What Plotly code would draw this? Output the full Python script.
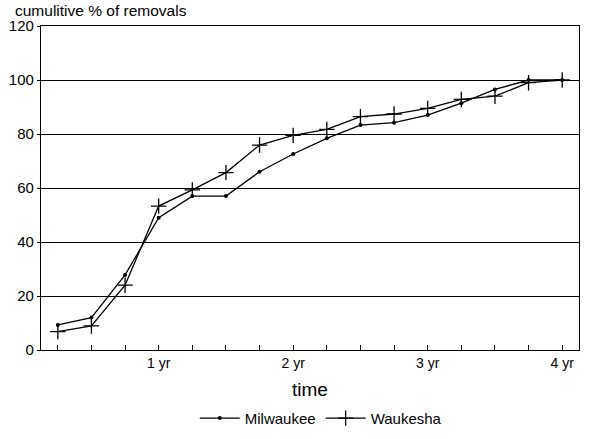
import plotly.graph_objects as go

quarters = list(range(1, 17))
milwaukee = [9.3, 12, 27.8, 49, 57, 57, 66, 72.6, 78.4, 83.3, 84.2, 87, 91.4, 96.5, 100, 100]
waukesha = [6.8, 8.9, 24, 53.3, 59.3, 65.7, 75.9, 79.5, 81.7, 86.4, 87.4, 89.5, 92.8, 94, 99, 100]
tick_vals = list(range(1, 17))
tick_text = ["", "", "", "1 yr", "", "", "", "2 yr", "", "", "", "3 yr", "", "", "", "4 yr"]
y_ticks = [0, 20, 40, 60, 80, 100, 120]

font = "Liberation Sans, Arial, sans-serif"

fig = go.Figure()
fig.add_trace(go.Scatter(
    x=quarters, y=milwaukee, name="Milwaukee", mode="lines+markers",
    line=dict(color="black", width=1.3),
    marker=dict(symbol="circle", size=4, color="black"),
))
fig.add_trace(go.Scatter(
    x=quarters, y=waukesha, name="Waukesha", mode="lines+markers",
    line=dict(color="black", width=1.3),
    marker=dict(symbol="cross-thin", size=11, line=dict(color="black", width=1.3)),
))

fig.update_layout(
    width=589, height=439,
    margin=dict(l=41, r=10, t=26, b=89, autoexpand=False),
    paper_bgcolor="white", plot_bgcolor="white",
    font=dict(family=font, size=13, color="black"),
    showlegend=True,
    legend=dict(orientation="h", x=0.52, xanchor="center", y=-0.16, yanchor="top",
                font=dict(size=15), itemwidth=40),
    xaxis=dict(
        range=[0.5, 16.5], tickmode="array", tickvals=tick_vals, ticktext=tick_text,
        ticks="inside", ticklen=5, tickcolor="black", tickwidth=1,
        showline=True, linecolor="black", linewidth=1.3, mirror=True,
        showgrid=False, zeroline=False,
        title=dict(text="time", font=dict(size=19), standoff=12),
        tickfont=dict(size=14),
    ),
    yaxis=dict(
        range=[0, 120], tickmode="array", tickvals=y_ticks,
        ticks="outside", ticklen=3, tickcolor="black",
        showline=True, linecolor="black", linewidth=1.3, mirror=True,
        showgrid=True, gridcolor="black", gridwidth=1,
        zeroline=False, tickfont=dict(size=15),
    ),
    annotations=[dict(
        text="cumulitive % of removals", xref="paper", yref="paper",
        x=-0.052, y=1.0, xanchor="left", yanchor="bottom", yshift=5,
        showarrow=False, font=dict(size=15.5),
    )],
)

fig.write_html("out.html", config={"displayModeBar": False},
               post_script="document.body.style.margin='0';")
